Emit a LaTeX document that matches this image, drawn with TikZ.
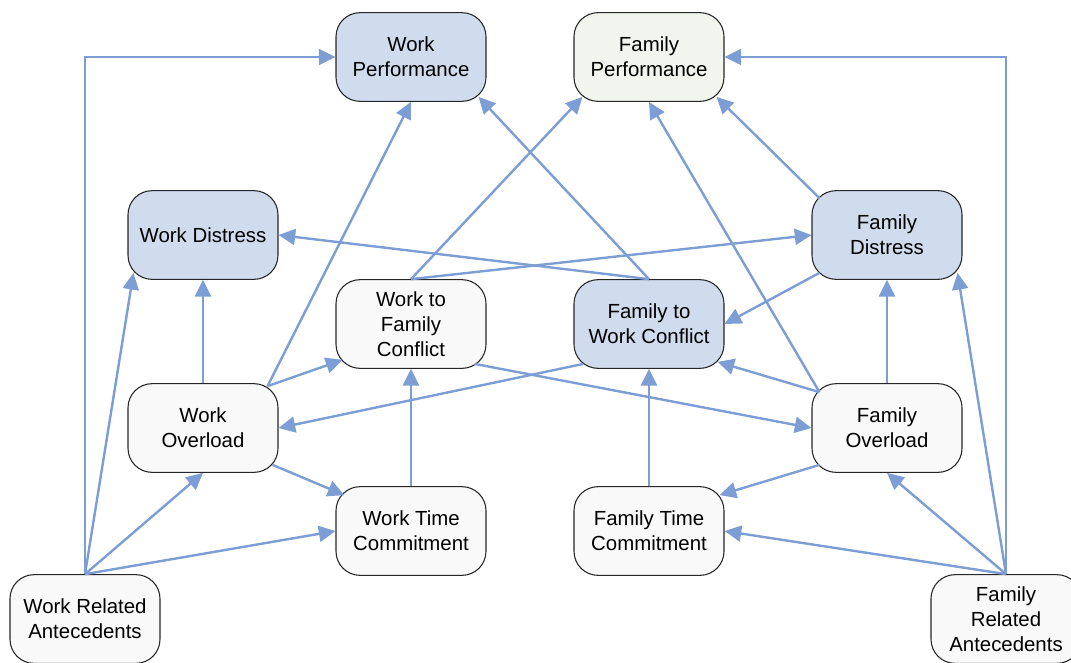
\documentclass[tikz,border=0pt]{standalone}
\usepackage{fontspec}
\setmainfont{Liberation Sans}
\usetikzlibrary{arrows.meta, positioning, calc}
\definecolor{linkblue}{RGB}{124,158,212}
\definecolor{boxblue}{RGB}{208,219,238}
\definecolor{boxgrey}{RGB}{249,249,249}
\definecolor{boxgreen}{RGB}{242,245,238}

\begin{document}
\begin{tikzpicture}[x=0.75pt,y=-0.75pt,
		box/.style={draw=black!85,line width=0.8pt,rectangle,rounded corners=18pt,align=center,minimum width=112.5pt,minimum height=66.5pt,inner sep=2pt,font=\fontsize{15.3pt}{18.75pt}\selectfont},
		stress/.style={box,fill=boxblue},
		plain/.style={box,fill=boxgrey},
		link/.style={draw=linkblue,line width=1.8pt,-{Triangle[length=12.5pt,width=12pt]}}
		]
		\useasboundingbox (0,0) rectangle (1071,662);
		\node (wp) [stress] at (411,57) {Work\\Performance};
		\node (fp) [box,fill=boxgreen] at (649,57) {Family\\Performance};
		\node (wd) [stress] at (203,235) {Work Distress};
		\node (fd) [stress] at (887,235) {Family\\Distress};
		\node (wfc) [plain] at (411,324) {Work to\\Family\\Conflict};
		\node (fwc) [stress] at (649,324) {Family to\\Work Conflict};
		\node (wo) [plain] at (203,428) {Work\\Overload};
		\node (fo) [plain] at (887,428) {Family\\Overload};
		\node (wtc) [plain] at (411,531) {Work Time\\Commitment};
		\node (ftc) [plain] at (649,531) {Family Time\\Commitment};
		\node (wra) [plain] at (85,619) {Work Related\\Antecedents};
		\node (fra) [plain] at (1006,619) {Family\\Related\\Antecedents};
		\draw [link] (wra.north) |- (wp.west);
		\draw [link] (fra.north) |- (fp.east);
		\draw [link] (wra.north) -- ($(wd.south west)+(6,-7)$);
		\draw [link] (wra.north) -- (wo.south);
		\draw [link] (wra.north) -- (wtc.west);
		\draw [link] (wo.north) -- (wd.south);
		\draw [link] ($(wo.north east)+(-11,3)$) -- (wp.south);
		\draw [link] ($(wo.north east)+(-11,3)$) -- ($(wfc.south west)+(7,-9)$);
		\draw [link] ($(wo.south east)+(-6,-8)$) -- ($(wtc.north west)+(9,9)$);
		\draw [link] (wtc.north) -- (wfc.south);
		\draw [link] (wfc.north) -- ($(fp.south west)+(9,-5)$);
		\draw [link] (wfc.north) -- (fd.west);
		\draw [link] ($(wfc.south east)+(-12,-5)$) -- (fo.west);
		\draw [link] (fwc.north) -- ($(wp.south east)+(-8,-5)$);
		\draw [link] (fwc.north) -- (wd.east);
		\draw [link] ($(fwc.south west)+(10,-5)$) -- (wo.east);
		\draw [link] (ftc.north) -- (fwc.south);
		\draw [link] ($(fo.north west)+(8,9)$) -- ($(fwc.south east)+(-7,-7)$);
		\draw [link] ($(fo.north west)+(8,9)$) -- (fp.south);
		\draw [link] ($(fd.north west)+(8,8)$) -- ($(fp.south east)+(-8,-5)$);
		\draw [link] ($(fd.south west)+(8,-7)$) -- (fwc.east);
		\draw [link] (fo.north) -- (fd.south);
		\draw [link] ($(fo.south west)+(8,-8)$) -- ($(ftc.north east)+(-5,9)$);
		\draw [link] (fra.north) -- (fo.south);
		\draw [link] (fra.north) -- (ftc.east);
		\draw [link] (fra.north) -- ($(fd.south east)+(-5,-7)$);
	\end{tikzpicture}
\end{document}
